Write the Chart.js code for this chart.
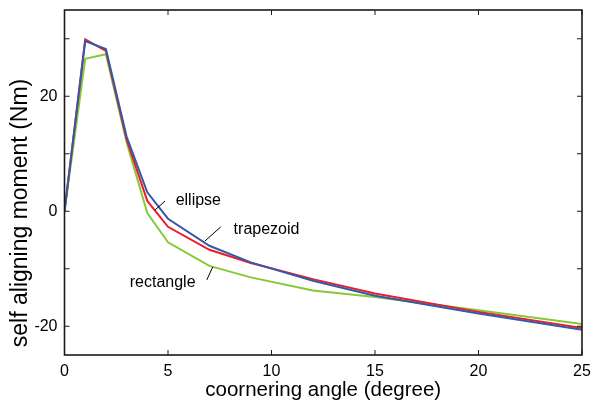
<!DOCTYPE html>
<html><head><meta charset="utf-8">
<script src="https://cdn.jsdelivr.net/npm/chart.js@4.4.1/dist/chart.umd.min.js"></script>
<style>html,body{margin:0;padding:0;background:#fff;} canvas{display:block}</style>
</head><body>
<canvas id="c" width="602" height="405"></canvas>
<script>
// ---- data ----
const angles    = [0, 1, 2, 3, 4, 5, 7, 9, 12, 15, 20, 25];
const ellipse   = [0, 29.6, 28.2, 13.0, 3.3, -1.3, -6.0, -8.9, -12.1, -14.7, -17.8, -20.6];
const trapezoid = [0, 29.9, 27.9, 12.5, 1.8, -2.7, -6.7, -9.0, -11.8, -14.3, -17.5, -20.3];
const rectangle = [0, 26.5, 27.3, 12.0, -0.3, -5.4, -9.5, -11.5, -13.8, -14.9, -17.2, -19.6];
const xTicks = [0, 5, 10, 15, 20, 25];
const yTicks = [-20, -10, 0, 10, 20, 30];
const yLabelled = [-20, 0, 20];
const seriesNames = ['ellipse', 'trapezoid', 'rectangle'];
const xTitle = 'coornering angle (degree)';
const yTitle = 'self aligning moment (Nm)';

// annotation anchors (data coordinates)
const noteText  = ['ellipse', 'trapezoid', 'rectangle'];
const noteX     = [5.37, 8.17, 6.33];
const noteY     = [1.78, -3.11, -12.46];
const noteAlign = ['left', 'left', 'right'];
const leadFrom  = [[4.375, 0.22], [6.78, -5.19], [6.875, -11.94]];
const leadTo    = [[4.856, 1.78], [7.55, -2.72], [7.16, -9.69]];

const FONT = "'Liberation Sans', Arial, Helvetica, sans-serif";
const pts = ys => angles.map((a, i) => ({x: a, y: ys[i]}));

const framePlugin = {
  id: 'frame',
  afterDatasetsDraw(chart) {
    const ctx = chart.ctx, a = chart.chartArea;
    const xs = chart.scales.x, ys = chart.scales.y;
    ctx.save();
    ctx.strokeStyle = '#1a1a1a';
    ctx.lineWidth = 1;
    const tl = 5;
    ctx.beginPath();
    xTicks.forEach(v => {
      const px = xs.getPixelForValue(v);
      ctx.moveTo(px, a.bottom); ctx.lineTo(px, a.bottom - tl);
      ctx.moveTo(px, a.top); ctx.lineTo(px, a.top + tl);
    });
    yTicks.forEach(v => {
      const py = ys.getPixelForValue(v);
      ctx.moveTo(a.left, py); ctx.lineTo(a.left + tl, py);
      ctx.moveTo(a.right, py); ctx.lineTo(a.right - tl, py);
    });
    ctx.stroke();
    ctx.lineWidth = 1.6;
    ctx.strokeRect(a.left, a.top, a.right - a.left, a.bottom - a.top);
    // annotations
    ctx.lineWidth = 1;
    ctx.strokeStyle = '#000';
    ctx.fillStyle = '#000';
    ctx.font = '16px ' + FONT;
    ctx.textBaseline = 'middle';
    noteText.forEach((t, i) => {
      ctx.beginPath();
      ctx.moveTo(xs.getPixelForValue(leadFrom[i][0]), ys.getPixelForValue(leadFrom[i][1]));
      ctx.lineTo(xs.getPixelForValue(leadTo[i][0]), ys.getPixelForValue(leadTo[i][1]));
      ctx.stroke();
      ctx.textAlign = noteAlign[i];
      ctx.fillText(t, xs.getPixelForValue(noteX[i]), ys.getPixelForValue(noteY[i]));
    });
    // y axis title (placed like the original figure, slightly below the axis centre)
    ctx.translate(21, ys.getPixelForValue(-0.3));
    ctx.rotate(-Math.PI / 2);
    ctx.font = '23px ' + FONT;
    ctx.textAlign = 'center';
    ctx.textBaseline = 'middle';
    ctx.fillText(yTitle, 0, 0);
    ctx.restore();
  }
};

new Chart(document.getElementById('c'), {
  type: 'line',
  data: {
    datasets: [
      {label: seriesNames[0], data: pts(ellipse),   borderColor: 'rgb(52,88,170)',  borderWidth: 2},
      {label: seriesNames[1], data: pts(trapezoid), borderColor: 'rgb(235,30,40)',  borderWidth: 2},
      {label: seriesNames[2], data: pts(rectangle), borderColor: 'rgb(135,200,55)', borderWidth: 2}
    ]
  },
  options: {
    responsive: false,
    animation: false,
    devicePixelRatio: 1,
    layout: {padding: {top: 10, right: 20, left: 0, bottom: 0}},
    elements: {point: {radius: 0}, line: {tension: 0, fill: false}},
    plugins: {legend: {display: false}, tooltip: {enabled: false}},
    scales: {
      x: {
        type: 'linear', min: 0, max: 25,
        afterBuildTicks: s => { s.ticks = xTicks.map(v => ({value: v})); },
        afterFit: s => { s.height = 50; s.paddingLeft = 0; s.paddingRight = 0; },
        grid: {display: false, drawTicks: false},
        border: {display: false},
        ticks: {autoSkip: false, maxRotation: 0, padding: 7, color: '#000',
                font: {family: FONT, size: 16}},
        title: {display: true, text: xTitle, color: '#000',
                font: {family: FONT, size: 20.5}, padding: {top: 0, bottom: 2}}
      },
      y: {
        type: 'linear', min: -25, max: 35,
        afterBuildTicks: s => { s.ticks = yTicks.map(v => ({value: v})); },
        afterFit: s => { s.width = 64.5; s.paddingTop = 0; s.paddingBottom = 0; },
        grid: {display: false, drawTicks: false},
        border: {display: false},
        ticks: {autoSkip: false, padding: 7, color: '#000',
                font: {family: FONT, size: 16},
                callback: v => yLabelled.includes(v) ? String(v) : ''}
      }
    }
  },
  plugins: [framePlugin]
});
</script>
</body></html>
